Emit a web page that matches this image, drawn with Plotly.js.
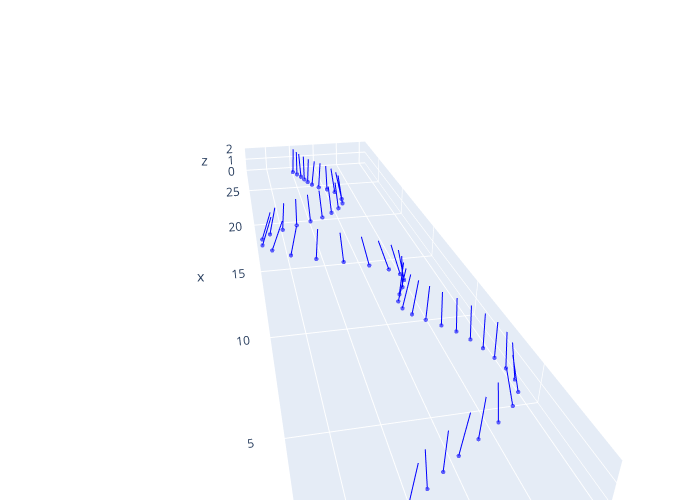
<!DOCTYPE html><html><head><script src="https://cdn.plot.ly/plotly-3.0.1.min.js"></script></head><body style="margin:0">
<div id="g" style="width:700px;height:500px"></div>
<script>
const xBase=[27.80,27.32,26.82,26.31,25.80,25.28,24.77,24.34,23.82,22.67,22.03,21.37,20.82,20.32,19.94,19.57,19.17,18.75,18.25,17.59,16.97,16.30,15.71,15.19,14.66,14.14,13.63,13.10,12.54,12.01,11.50,10.97,10.49,10.03,9.56,9.08,8.52,7.94,7.35,6.75,6.15,5.57,5.01,4.44,3.92,3.44,2.99,2.54,2.14];
const yBase=[5.91,5.65,5.40,5.22,5.04,4.79,4.36,3.80,3.32,3.07,3.18,3.64,4.26,5.02,5.91,6.91,7.90,8.78,9.32,9.36,8.83,7.78,6.36,4.84,3.46,2.47,1.99,1.96,2.26,2.64,2.89,2.87,2.55,2.03,1.44,0.91,0.50,0.19,-0.02,-0.20,-0.24,-0.02,0.57,1.52,2.62,3.64,4.44,5.21,6.03];
const xTip=[27.82,27.23,26.79,26.20,25.65,25.20,24.77,24.22,23.69,23.03,22.48,21.39,20.86,20.38,19.93,19.46,19.02,18.54,18.02,17.45,16.89,16.25,15.72,15.15,14.57,14.05,13.57,13.03,12.49,11.94,11.46,10.97,10.47,9.99,9.49,9.00,8.45,7.88,7.31,6.73,6.16,5.55,5.01,4.45,3.95,3.45,2.94,2.45,2.07];
const yTip=[5.80,5.64,5.52,5.25,4.95,4.57,4.21,3.89,3.61,3.41,3.37,3.85,4.45,5.19,6.06,6.92,7.76,8.38,8.73,8.74,8.13,7.37,6.23,5.05,3.97,3.16,2.60,2.38,2.40,2.51,2.56,2.51,2.31,1.96,1.55,1.07,0.66,0.31,0.06,-0.01,0.10,0.47,1.07,1.74,2.50,3.36,4.41,5.43,5.82];
const zBase=0, zTip=2;
const lx=[],ly=[],lz=[];
xBase.forEach((v,i)=>{lx.push(v,xTip[i],null);ly.push(yBase[i],yTip[i],null);lz.push(zBase,zTip,null);});
const axisStyle={backgroundcolor:'#E5ECF6',gridcolor:'white',gridwidth:2,linecolor:'white',zerolinecolor:'white',showbackground:true,ticks:''};
Plotly.newPlot('g',[
 {type:'scatter3d',mode:'lines',x:lx,y:ly,z:lz,connectgaps:false,line:{color:'blue',width:2},showlegend:false,hoverinfo:'skip'},
 {type:'scatter3d',mode:'markers',x:xBase,y:yBase,z:xBase.map(()=>zBase),marker:{color:'blue',size:2.5,opacity:0.6},showlegend:false}
],{width:700,height:500,margin:{l:0,r:0,t:0,b:0},paper_bgcolor:'white',font:{color:'#2a3f5f'},showlegend:false,
 scene:{aspectmode:'manual',aspectratio:{x:3.6386,y:1,z:0.1896},
  xaxis:Object.assign({title:{text:'x'},range:[1.2183,28.6968],dtick:5},axisStyle),
  yaxis:Object.assign({title:{text:'y'},range:[-0.5,9.7],dtick:2},axisStyle),
  zaxis:Object.assign({title:{text:'z'},range:[0,2],dtick:1},axisStyle),
  camera:{eye:{x:-3.0162,y:0.59276,z:1.49086},center:{x:0.02203,y:-0.01225,z:-0.01732},up:{x:-0.2724,y:0.053,z:1}}}
},{displayModeBar:false});
</script></body></html>
